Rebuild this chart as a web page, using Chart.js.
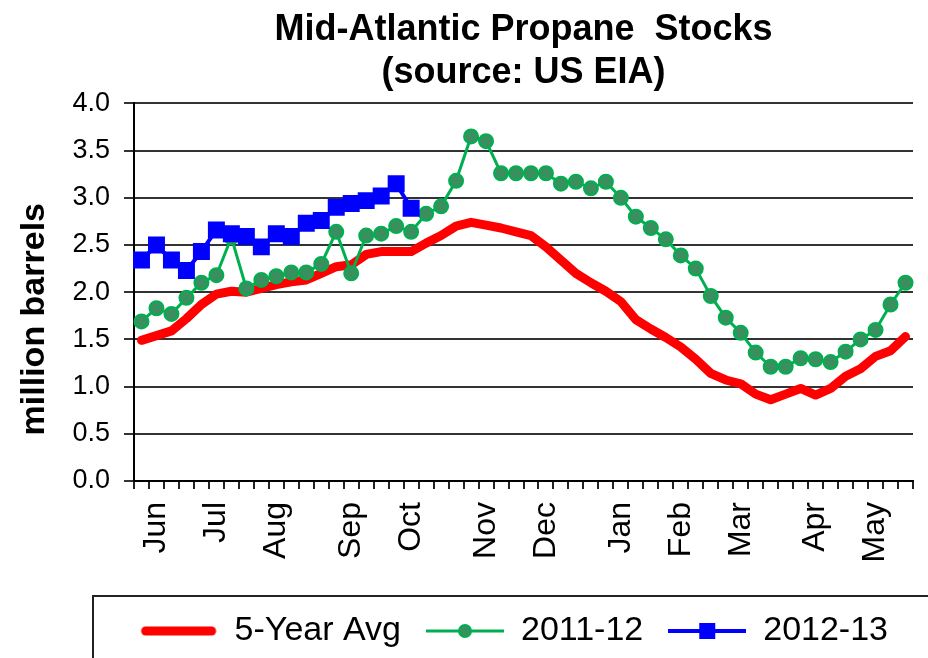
<!DOCTYPE html>
<html>
<head>
<meta charset="utf-8">
<script src="https://cdn.jsdelivr.net/npm/chart.js@4.4.1/dist/chart.umd.min.js"></script>
<style>
html,body{margin:0;padding:0;background:#fff;}
#wrap{width:928px;height:658px;}
</style>
</head>
<body>
<div id="wrap"><canvas id="c" width="928" height="658"></canvas></div>
<script>
// weekly stocks, first week of June -> last week of May (million barrels)
var monthNames=['Jun','Jul','Aug','Sep','Oct','Nov','Dec','Jan','Feb','Mar','Apr','May'];
var monthWeek=[1,5,9,14,18,23,27,32,36,40,45,49];
var weeks=[];
for(var i=0;i<52;i++){weeks.push('');}
monthWeek.forEach(function(w,k){weeks[w]=monthNames[k];});

var avg5=[1.49,1.54,1.59,1.72,1.87,1.98,2.01,2.00,2.04,2.08,2.11,2.13,2.20,2.27,2.29,2.40,
  2.43,2.43,2.43,2.52,2.60,2.70,2.74,2.71,2.68,2.64,2.60,2.48,2.34,2.20,2.10,2.01,
  1.90,1.71,1.61,1.52,1.42,1.29,1.14,1.07,1.03,0.92,0.86,0.92,0.98,0.91,0.98,1.11,
  1.19,1.32,1.38,1.53];
var stocks1112=[1.69,1.83,1.77,1.94,2.10,2.18,2.58,2.04,2.13,2.17,2.21,2.21,2.30,2.64,2.20,2.60,
  2.62,2.70,2.64,2.83,2.91,3.18,3.65,3.60,3.26,3.26,3.26,3.26,3.15,3.17,3.10,3.17,
  3.00,2.80,2.68,2.56,2.39,2.25,1.96,1.73,1.57,1.36,1.21,1.21,1.30,1.29,1.26,1.37,
  1.50,1.60,1.87,2.10];
var stocks1213=[2.34,2.50,2.34,2.23,2.43,2.66,2.62,2.59,2.48,2.62,2.59,2.73,2.76,2.90,2.94,2.97,
  3.02,3.15,2.89];

var FONT='"Liberation Sans", Arial, sans-serif';

function sample(draw){
  var c=document.createElement('canvas');
  c.width=78;c.height=24;
  draw(c.getContext('2d'));
  return c;
}
var legendSamples=[
  sample(function(g){g.strokeStyle='#ff0000';g.lineWidth=9;g.lineCap='round';g.beginPath();g.moveTo(6,12);g.lineTo(72,12);g.stroke();}),
  sample(function(g){g.strokeStyle='#00b050';g.lineWidth=3;g.beginPath();g.moveTo(0,12);g.lineTo(78,12);g.stroke();
    g.fillStyle='#3a8f5f';g.lineWidth=2;g.beginPath();g.arc(39,12,6,0,Math.PI*2);g.fill();g.stroke();}),
  sample(function(g){g.strokeStyle='#0000ff';g.lineWidth=4;g.beginPath();g.moveTo(0,12);g.lineTo(78,12);g.stroke();
    g.fillStyle='#0000ff';g.fillRect(31,4,16,16);})
];

var extras={
  id:'extras',
  afterDraw:function(chart){
    var ctx=chart.ctx,a=chart.chartArea;
    ctx.save();
    // y axis title, sits a little below the middle of the plot like the original
    ctx.translate(35,(a.top+a.bottom)/2+27);
    ctx.rotate(-Math.PI/2);
    ctx.font='bold 34px '+FONT;
    ctx.fillStyle='#000';
    ctx.textAlign='center';ctx.textBaseline='middle';
    ctx.fillText('million barrels',0,0);
    ctx.restore();
    // legend frame
    var hb=chart.legend.legendHitBoxes[0];
    var cy=hb.top+hb.height/2;
    ctx.save();
    ctx.strokeStyle='#222';ctx.lineWidth=2;
    ctx.strokeRect(a.left-41,cy-35,chart.width,120);
    ctx.restore();
  }
};

new Chart(document.getElementById('c').getContext('2d'),{
  type:'line',
  data:{
    labels:weeks,
    datasets:[
      {label:'5-Year Avg',data:avg5,borderColor:'#ff0000',borderWidth:9,pointRadius:0,
        borderCapStyle:'round',borderJoinStyle:'round',order:3},
      {label:'2011-12',data:stocks1112,borderColor:'#00b050',borderWidth:3,pointRadius:7,
        pointBackgroundColor:'#3a8f5f',pointBorderColor:'#00b050',pointBorderWidth:2,order:2},
      {label:'2012-13',data:stocks1213,borderColor:'#0000ff',borderWidth:4,pointStyle:'rect',
        pointRadius:12,pointBackgroundColor:'#0000ff',pointBorderColor:'#0000ff',pointBorderWidth:0,order:1}
    ]
  },
  options:{
    responsive:false,
    animation:false,
    layout:{padding:{left:0,right:15,top:0,bottom:0}},
    plugins:{
      title:{display:true,fullSize:false,text:['Mid-Atlantic Propane  Stocks','(source: US EIA)'],
        color:'#000',font:{family:FONT,size:36,weight:'bold',lineHeight:1.2},
        padding:{top:8,bottom:9}},
      legend:{position:'bottom',align:'end',
        labels:{usePointStyle:true,pointStyleWidth:78,padding:25,color:'#000',
          font:{family:FONT,size:34},
          generateLabels:function(chart){
            return chart.data.datasets.map(function(ds,i){
              return {text:ds.label,pointStyle:legendSamples[i],datasetIndex:i,hidden:false,
                lineWidth:0,fillStyle:'rgba(0,0,0,0)',strokeStyle:'rgba(0,0,0,0)',fontColor:'#000'};
            });
          }}},
      tooltip:{enabled:false}
    },
    scales:{
      x:{
        offset:true,
        afterFit:function(s){s.height=108;s.paddingLeft=0;s.paddingRight=0;},
        grid:{offset:true,drawOnChartArea:false,drawTicks:true,tickLength:8,color:'#222',lineWidth:2},
        border:{display:true,color:'#000',width:2},
        ticks:{autoSkip:false,minRotation:90,maxRotation:90,padding:13,color:'#000',
          font:{family:FONT,size:32}}
      },
      y:{
        min:0,max:4,
        afterFit:function(s){s.width=134;},
        grid:{color:'#333',lineWidth:2,tickLength:10},
        border:{display:true,color:'#000',width:2},
        ticks:{stepSize:0.5,padding:14,color:'#000',
          font:{family:FONT,size:27},
          callback:function(v){return v.toFixed(1);}}
      }
    }
  },
  plugins:[extras]
});
</script>
</body>
</html>
